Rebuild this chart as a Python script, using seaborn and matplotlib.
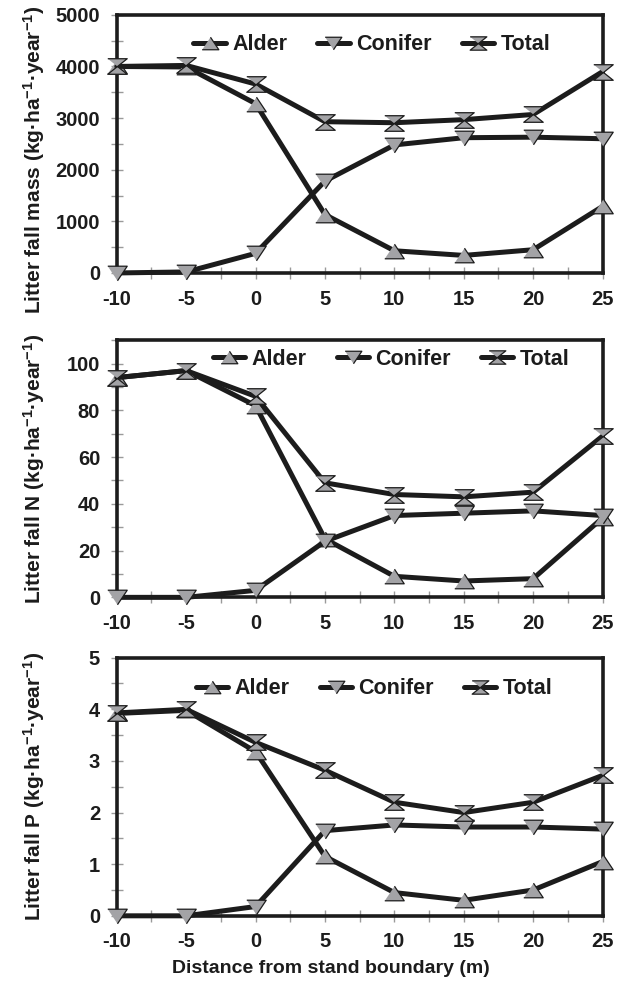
import numpy as np
import pandas as pd
import seaborn as sns
import matplotlib.pyplot as plt
from matplotlib.lines import Line2D
from matplotlib.ticker import MultipleLocator

# distance from stand boundary (m)
distance = [-10, -5, 0, 5, 10, 15, 20, 25]

# litter fall mass (kg/ha/yr)
mass_alder = [4000, 3990, 3280, 1130, 430, 340, 450, 1290]
mass_conifer = [0, 20, 380, 1780, 2480, 2620, 2630, 2600]
mass_total = [4000, 4020, 3660, 2930, 2910, 2970, 3070, 3900]

# litter fall N
n_alder = [94, 97, 82, 25, 9, 7, 8, 34]
n_conifer = [0, 0, 3, 24, 35, 36, 37, 35]
n_total = [94, 97, 86, 49, 44, 43, 45, 69]

# litter fall P
p_alder = [3.92, 3.98, 3.18, 1.15, 0.45, 0.30, 0.50, 1.05]
p_conifer = [0, 0, 0.18, 1.65, 1.76, 1.72, 1.72, 1.68]
p_total = [3.93, 4.00, 3.36, 2.82, 2.20, 2.00, 2.20, 2.72]

series_names = ["Alder", "Conifer", "Total"]

sns.set_theme(style="white")
plt.rcParams['font.family'] = ['Liberation Sans', 'DejaVu Sans']
plt.rcParams['font.weight'] = 'bold'
plt.rcParams['axes.unicode_minus'] = False
plt.rcParams['mathtext.fontset'] = 'custom'
plt.rcParams['mathtext.rm'] = 'Liberation Sans:bold'
plt.rcParams['mathtext.bf'] = 'Liberation Sans:bold'
plt.rcParams['mathtext.default'] = 'bf'

dark = "#1c1c1c"
grey = "#a3a3a6"
tri_up = [(-1, -0.75), (1, -0.75), (0, 0.75)]
tri_down = [(-1, 0.75), (1, 0.75), (0, -0.75)]
hourglass = [(-1, 0.8), (1, 0.8), (0, 0), (1, -0.8), (-1, -0.8), (0, 0)]
markers = {"Alder": tri_up, "Conifer": tri_down, "Total": hourglass}

panels = [
    (mass_alder, mass_conifer, mass_total, 5000, 1000, 500,
     r"Litter fall mass (kg·ha$^{-1}$·year$^{-1}$)", 0.44, 0.525, 0.884),
    (n_alder, n_conifer, n_total, 110, 20, 10,
     r"Litter fall N (kg·ha$^{-1}$·year$^{-1}$)", 0.5, 0.565, 0.926),
    (p_alder, p_conifer, p_total, 5, 1, 0.5,
     r"Litter fall P (kg·ha$^{-1}$·year$^{-1}$)", 0.5, 0.53, 0.88),
]
boxes = [(0.189, 0.724, 0.786, 0.261),
         (0.189, 0.396, 0.786, 0.260),
         (0.189, 0.074, 0.786, 0.261)]

fig = plt.figure(figsize=(6.18, 9.89), dpi=100)

for (alder, conifer, total, ymax, major, minor, ylab, ylab_y, leg_x, leg_y), box in zip(panels, boxes):
    ax = fig.add_axes(box)
    df = pd.DataFrame({"distance": distance * 3,
                       "value": alder + conifer + total,
                       "series": np.repeat(series_names, len(distance))})
    for name in series_names:
        sub = df[df["series"] == name]
        sns.lineplot(data=sub, x="distance", y="value", ax=ax, color=dark,
                     lw=3.6, marker=markers[name], markersize=14,
                     markerfacecolor=grey, markeredgecolor=dark, markeredgewidth=0.9,
                     clip_on=False, zorder=3)
    ax.set_xlim(-10, 25)
    ax.set_ylim(0, ymax)
    ax.xaxis.set_major_locator(MultipleLocator(5))
    ax.xaxis.set_minor_locator(MultipleLocator(2.5))
    ax.yaxis.set_major_locator(MultipleLocator(major))
    ax.yaxis.set_minor_locator(MultipleLocator(minor))
    ax.tick_params(which="both", direction="inout", length=8, width=1, color="#9a9a9a",
                   bottom=True, left=True, labelsize=14.5, labelcolor=dark)
    ax.tick_params(axis="x", pad=8)
    ax.tick_params(axis="y", pad=8)
    for lab in ax.get_xticklabels() + ax.get_yticklabels():
        lab.set_fontweight("bold")
    for sp in ax.spines.values():
        sp.set_linewidth(2.6)
        sp.set_color(dark)
        sp.set_zorder(2)
    ax.set_xlabel("")
    ax.set_ylabel(ylab, fontsize=15, fontweight="bold", color=dark)
    ax.yaxis.set_label_coords(-0.143, ylab_y)

    handles = [Line2D([], [], color=dark, lw=3.6, marker=markers[n], markersize=12,
                      markerfacecolor=grey, markeredgecolor=dark, markeredgewidth=0.9)
               for n in series_names]
    leg = ax.legend(handles, series_names, loc="center", bbox_to_anchor=(leg_x, leg_y),
                    ncol=3, frameon=False, fontsize=15.5, handlelength=1.5,
                    handletextpad=0.3, columnspacing=1.4)
    for t in leg.get_texts():
        t.set_fontweight("bold")
        t.set_color(dark)

fig.text(0.535, 0.021, "Distance from stand boundary (m)", ha="center", va="center",
         fontsize=14, fontweight="bold", color=dark)

plt.savefig("out.png", dpi=100)
